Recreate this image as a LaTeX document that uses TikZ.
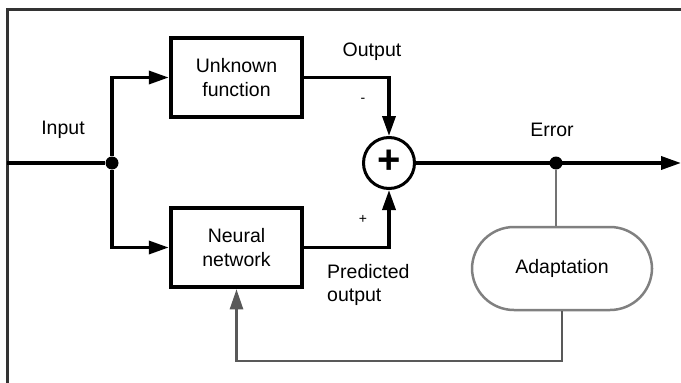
\documentclass[tikz,border=0pt]{standalone}
\usepackage{fontspec}
\setmainfont{Liberation Sans}
\usetikzlibrary{arrows.meta}
\begin{document}
\begin{tikzpicture}[x=1pt,y=-1pt,
  lbl/.style={font=\fontsize{19.5}{23}\selectfont, inner sep=0pt},
  blk/.style={draw, line width=4.5pt, minimum width=131pt, minimum height=79pt, align=center, font=\fontsize{19.5}{24}\selectfont},
  wire/.style={line width=3.5pt},
  arr/.style={wire, -{Triangle[length=20pt,width=13pt]}},
  gwire/.style={line width=2.5pt, draw=black!55},
  dotnode/.style={circle, fill, inner sep=0pt, minimum size=13pt}]
\useasboundingbox (0,0) rectangle (681,383);
\draw[line width=3pt, black!80] (7,383) -- (7,9) -- (681,9);
\coordinate (in) at (7,163);
\node[dotnode] (j) at (112,163) {};
\node[blk] (uf) at (236.5,77.5) {Unknown\\function};
\node[blk] (nn) at (236.5,247.5) {Neural\\network};
\node[draw, circle, line width=3pt, minimum size=51pt, inner sep=0pt, font=\bfseries\fontsize{40}{40}\selectfont] (sum) at (389,163) {\raisebox{2pt}{+}};
\node[dotnode] (e) at (556,163) {};
\coordinate (end) at (681,163);
\node[draw=black!50, line width=2.5pt, rounded corners=42pt, minimum width=180pt, minimum height=83pt, font=\fontsize{19.5}{23}\selectfont] (ad) at (562,268.5) {Adaptation};
\coordinate (fbk) at (0,361);

\draw[wire] (in) -- (j);
\draw[arr] (j) |- (uf.west);
\draw[arr] (j) |- (nn.west);
\draw[arr] (uf.east) -| (sum.north);
\draw[arr] (nn.east) -| (sum.south);
\draw[arr] (sum.east) -- (end);
\draw[gwire] (e) -- (e |- ad.north);
\draw[line width=2.5pt, draw=black!65, -{Triangle[length=20pt,width=13pt]}] (ad.south) -- (ad.south |- fbk) -| (nn.south);

\node[lbl] (linput) at (63,130) {Input};
\node[lbl] (loutput) at (372,52) {Output};
\node[lbl, font=\fontsize{14}{14}\selectfont] (lminus) at (363,100) {-};
\node[lbl, font=\fontsize{14}{14}\selectfont] (lplus) at (363,219) {+};
\node[lbl] (lerror) at (552,130) {Error};
\node[lbl, align=left, anchor=west] (lpred) at (327,285) {Predicted\\output};
\end{tikzpicture}
\end{document}
